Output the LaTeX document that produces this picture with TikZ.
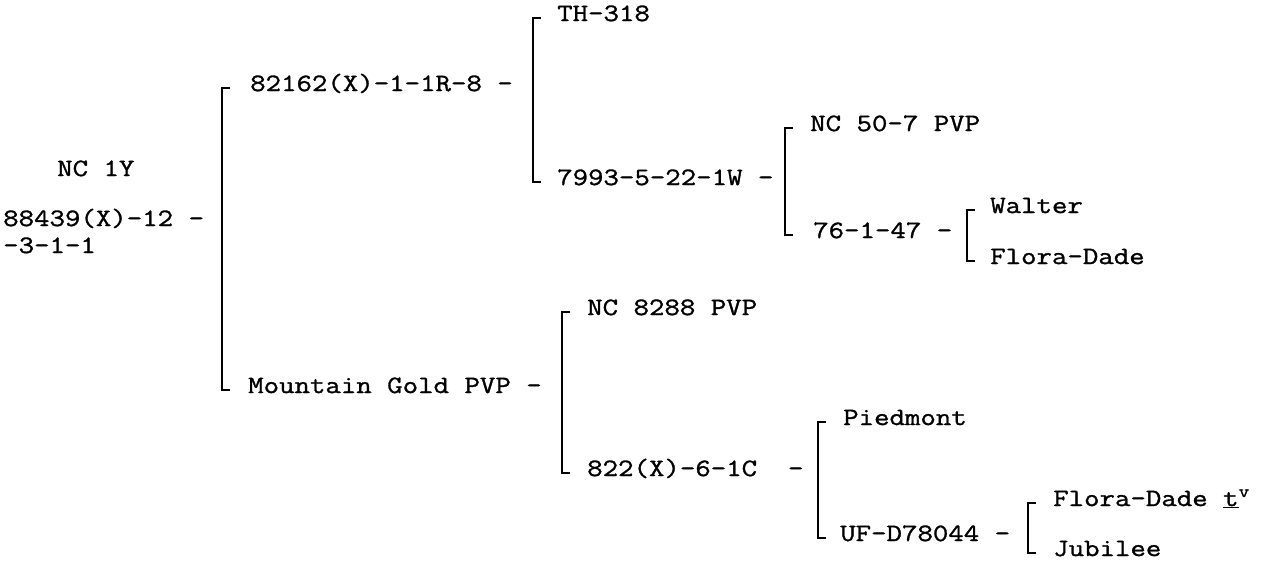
\documentclass[tikz,border=0pt]{standalone}
\usepackage{fontspec}
\newfontfamily\courfont{Latin Modern Mono}[FakeStretch=1.2,FakeBold=1.2]
\usetikzlibrary{calc}
\begin{document}
\begin{tikzpicture}[x=1pt,y=-1pt,
  lbl/.style={anchor=west,inner sep=0pt,font=\courfont\fontsize{25}{29}\selectfont,text height=0.61em,text depth=0pt},
  br/.style={line width=2.6pt,line cap=butt,line join=miter}]
\useasboundingbox (0,0) rectangle (1262,563);
% labels
\node[lbl] (nc1y) at (57,173) {NC 1Y};
\node[lbl] (p88) at (3,223) {88439(X)-12 -};
\node[lbl] (p88b) at (3,250) {-3-1-1};
\node[lbl] (p82) at (250,88) {82162(X)-1-1R-8 -};
\node[lbl] (th) at (557,18) {TH-318};
\node[lbl] (p79) at (557,182) {7993-5-22-1W -};
\node[lbl] (nc50) at (810,128) {NC 50-7 PVP};
\node[lbl] (p76) at (813,235) {76-1-47 -};
\node[lbl] (walter) at (990,210) {Walter};
\node[lbl] (flora) at (990,261) {Flora-Dade};
\node[lbl] (mg) at (248,390) {Mountain Gold PVP -};
\node[lbl] (nc82) at (587,312) {NC 8288 PVP};
\node[lbl] (p822) at (587,473) {822(X)-6-1C\ \ -};
\node[lbl] (pied) at (843,422) {Piedmont};
\node[lbl] (uf) at (840,538) {UF-D78044 -};
\node[lbl] (florat) at (1053,503) {Flora-Dade \underline{t}\textsuperscript{v}};
\node[lbl] (jub) at (1053,553) {Jubilee};
% bracket spines
\coordinate (b1) at (222,0);
\coordinate (b2) at (533,0);
\coordinate (b3) at (785,0);
\coordinate (b4) at (967,0);
\coordinate (b5) at (562,0);
\coordinate (b6) at (818,0);
\coordinate (b7) at (1028,0);
\newcommand\brk[3]{%
  \draw[br] ($(#1 |- #2.west)+(8,0)$) -- (#1 |- #2.west)
     -- (#1 |- #3.west) -- ($(#1 |- #3.west)+(8,0)$);}
\brk{b1}{p82}{mg}
\brk{b2}{th}{p79}
\brk{b3}{nc50}{p76}
\brk{b4}{walter}{flora}
\brk{b5}{nc82}{p822}
\brk{b6}{pied}{uf}
\brk{b7}{florat}{jub}
\end{tikzpicture}
\end{document}
